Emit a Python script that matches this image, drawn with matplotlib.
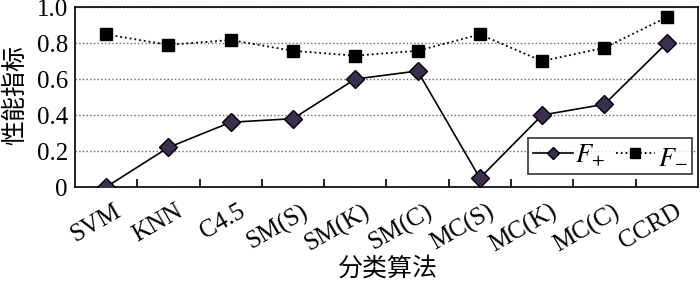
import matplotlib
matplotlib.use("Agg")
import matplotlib.pyplot as plt

categories = ["SVM", "KNN", "C4.5", "SM(S)", "SM(K)", "SM(C)", "MC(S)", "MC(K)", "MC(C)", "CCRD"]
f_plus = [0.0, 0.22, 0.36, 0.38, 0.60, 0.645, 0.05, 0.40, 0.46, 0.80]
f_minus = [0.848, 0.79, 0.817, 0.757, 0.73, 0.757, 0.848, 0.70, 0.774, 0.943]
yticks = [0, 0.2, 0.4, 0.6, 0.8, 1.0]
yticklabels = ["0", "0.2", "0.4", "0.6", "0.8", "1.0"]

plt.rcParams['font.family'] = ['Liberation Serif', 'Noto Sans CJK SC']
plt.rcParams['mathtext.fontset'] = 'stix'

fig = plt.figure(figsize=(7, 2.83), dpi=100)
ax = fig.add_axes([0.107, 0.339, 0.890, 0.636])

x = list(range(len(categories)))
ax.plot(x, f_plus, '-', color='black', lw=1.2, marker='D', ms=9,
        mfc='#3b2f4f', mec='black', mew=1.0, label=r'$F_{+}$', zorder=3)
ax.plot(x, f_minus, ':', color='black', lw=1.3, marker='s', ms=9,
        mfc='black', mec='black', label=r'$F_{-}$', zorder=3)

ax.set_xlim(-0.5, len(categories) - 0.5)
ax.set_ylim(0, 1.0)
ax.set_yticks(yticks)
ax.set_yticklabels(yticklabels, fontsize=18)
ax.tick_params(axis='y', length=0, pad=5)
ax.set_xticks([i + 0.5 for i in range(len(categories) - 1)])
ax.set_xticklabels([])
ax.tick_params(axis='x', direction='in', length=6, width=1.2)
for i, c in enumerate(categories):
    ax.text(i + 0.12, -0.075, c, rotation=30, ha='right', va='top',
            rotation_mode='anchor', fontsize=18, transform=ax.transData)

ax.grid(axis='y', linestyle=':', color='#666666', lw=1.0)
for s in ax.spines.values():
    s.set_linewidth(1.2)

fig.text(0.022, 0.665, '性能指标', family=['Noto Sans CJK SC'], fontsize=18,
         rotation=90, ha='center', va='center')
fig.text(0.554, 0.05, '分类算法', family=['Noto Sans CJK SC'], fontsize=18,
         ha='center', va='center')

leg = ax.legend(loc='lower right', ncol=2, fontsize=19, frameon=True, fancybox=False,
                edgecolor='black', handlelength=1.5, columnspacing=0.4,
                handletextpad=0.1, borderpad=0.18, borderaxespad=0.0,
                bbox_to_anchor=(0.991, 0.075))
leg.get_frame().set_linewidth(1.2)
hs = leg.legend_handles
hs[0].set_markersize(6)
hs[1].set_markersize(7.5)

fig.savefig('out.png', dpi=100)
